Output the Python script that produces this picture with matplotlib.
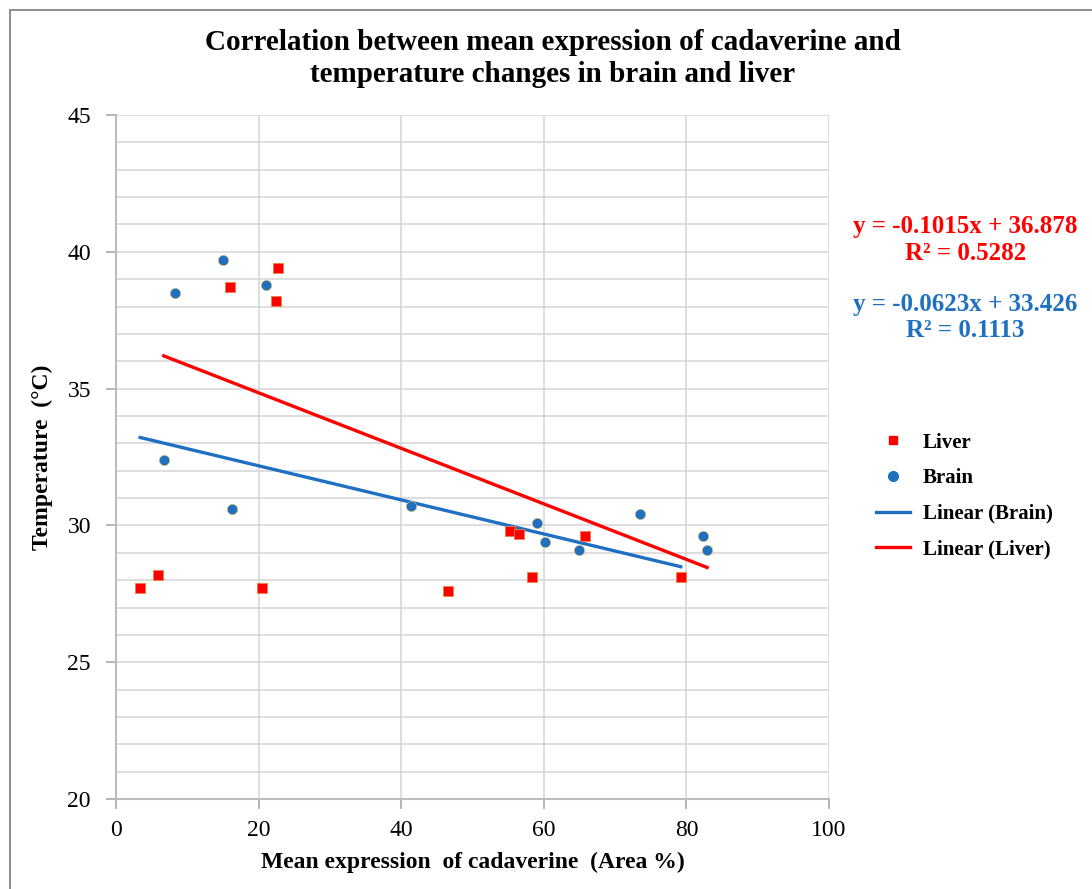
import matplotlib
matplotlib.use("Agg")
import matplotlib.pyplot as plt
from matplotlib.lines import Line2D
import numpy as np

# values
brain_x = [8.3, 15.0, 21.0, 6.7, 16.3, 41.4, 59.0, 60.2, 64.9, 73.5, 82.3, 82.9]
brain_y = [38.5, 39.7, 38.8, 32.4, 30.6, 30.7, 30.1, 29.4, 29.1, 30.4, 29.6, 29.1]
liver_x = [3.4, 5.9, 16.0, 22.7, 22.4, 20.5, 46.6, 55.3, 56.5, 58.3, 65.8, 79.2]
liver_y = [27.7, 28.2, 38.7, 39.4, 38.2, 27.7, 27.6, 29.8, 29.7, 28.1, 29.6, 28.1]

# trendline coefficients as printed on the chart
brain_fit = (-0.0623, 33.426, 0.1113)
liver_fit = (-0.1015, 36.878, 0.5282)

blue = "#1f70c1"
red = "#ff0000"
grid_c = "#d4d4d4"

plt.rcParams["font.family"] = ["Liberation Serif", "DejaVu Serif"]

fig = plt.figure(figsize=(10.92, 8.89), dpi=100)
ax = fig.add_axes([0.1062, 0.1012, 0.6530, 0.7694])

# chart frame (top and left edges visible in the reference)
fig.add_artist(Line2D([0.0096, 1.0], [0.9893, 0.9893], color="#8c8c8c", lw=1.4,
                      transform=fig.transFigure))
fig.add_artist(Line2D([0.0096, 0.0096], [0.0, 0.9893], color="#8c8c8c", lw=1.4,
                      transform=fig.transFigure))

ax.set_xlim(0, 100)
ax.set_ylim(20, 45)
ax.set_xticks(np.arange(0, 101, 20))
ax.set_yticks(np.arange(20, 46, 5))
ax.set_yticks(np.arange(20, 46, 1), minor=True)
ax.tick_params(axis="y", which="minor", length=0)
ax.tick_params(axis="both", which="major", labelsize=17, color="#a8a8a8",
               length=7, width=1.2, pad=11)
ax.tick_params(axis="x", which="major", pad=8)
ax.grid(True, which="both", axis="y", color=grid_c, lw=1.1)
ax.grid(True, which="major", axis="x", color=grid_c, lw=1.1)
ax.set_axisbelow(True)
for s in ["top", "right"]:
    ax.spines[s].set_visible(False)
for s in ["left", "bottom"]:
    ax.spines[s].set_color("#bcbcbc")
    ax.spines[s].set_linewidth(1.5)

# trendlines (drawn over the x range of the other series, as in the reference)
xb = np.array([min(liver_x), max(liver_x)])
ax.plot(xb, brain_fit[0] * xb + brain_fit[1], color=blue, lw=2.4, zorder=3)
xl = np.array([min(brain_x), max(brain_x)])
ax.plot(xl, liver_fit[0] * xl + liver_fit[1], color=red, lw=2.4, zorder=3)

ax.scatter(liver_x, liver_y, marker="s", s=48, color=red, edgecolors="#f08040",
           linewidths=0.6, zorder=4)
ax.scatter(brain_x, brain_y, marker="o", s=55, color=blue, edgecolors="#e0c060",
           linewidths=0.4, zorder=4)

ax.set_xlabel("Mean expression  of cadaverine  (Area %)", fontsize=17,
              fontweight="bold", labelpad=8)
ax.set_ylabel("Temperature  (°C)", fontsize=17, fontweight="bold", labelpad=10)
fig.suptitle("Correlation between mean expression of cadaverine and\n"
             "temperature changes in brain and liver",
             x=0.506, y=0.967, fontsize=21, fontweight="bold", linespacing=1.2)

fig.text(0.884, 0.745, "y = %.4fx + %.3f" % (liver_fit[0], liver_fit[1]),
         color=red, fontsize=18, fontweight="bold", ha="center", va="center")
fig.text(0.884, 0.715, "R² = %.4f" % liver_fit[2],
         color=red, fontsize=18, fontweight="bold", ha="center", va="center")
fig.text(0.884, 0.658, "y = %.4fx + %.3f" % (brain_fit[0], brain_fit[1]),
         color=blue, fontsize=18, fontweight="bold", ha="center", va="center")
fig.text(0.884, 0.628, "R² = %.4f" % brain_fit[2],
         color=blue, fontsize=18, fontweight="bold", ha="center", va="center")

handles = [
    Line2D([], [], ls="none", marker="s", ms=6, color=red),
    Line2D([], [], ls="none", marker="o", ms=7, color=blue),
    Line2D([], [], color=blue, lw=2.4),
    Line2D([], [], color=red, lw=2.4),
]
labels = ["Liver", "Brain", "Linear (Brain)", "Linear (Liver)"]
fig.legend(handles, labels, loc="center left", bbox_to_anchor=(0.785, 0.442),
           frameon=False, prop={"size": 15, "weight": "bold"},
           labelspacing=0.75, handlelength=1.65, handletextpad=0.6)

fig.savefig("out.png", dpi=100)
